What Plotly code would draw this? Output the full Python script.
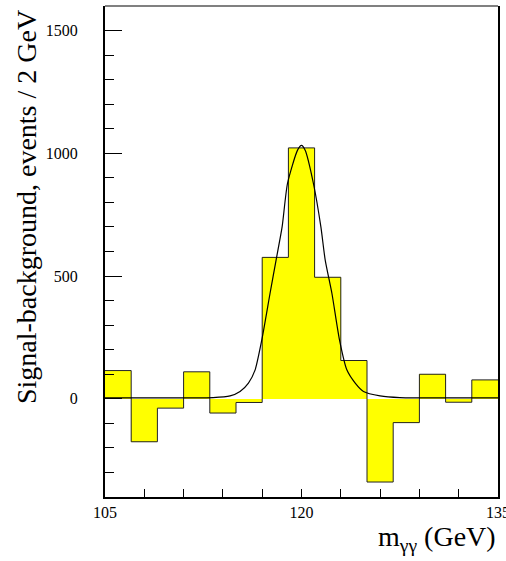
import plotly.graph_objects as go

# Histogram: signal - background per 2 GeV bin
bin_centers = [106, 108, 110, 112, 114, 116, 118, 120, 122, 124, 126, 128, 130, 132, 134]
bin_edges = [105, 107, 109, 111, 113, 115, 117, 119, 121, 123, 125, 127, 129, 131, 133, 135]
bin_values = [115, -175, -38, 110, -58, -15, 576, 1022, 495, 156, -339, -97, 100, -14, 77]

# Fitted curve, points
curve_x = [105, 110, 113.25, 114.55, 115.31, 115.95, 116.46, 116.97, 117.6, 118.06, 118.52,
           118.93, 119.69, 120.0, 120.28, 120.91, 121.48, 121.81, 122.32, 122.9, 123.46,
           124.1, 124.73, 126.0, 127.5, 130, 135]
curve_y = [4, 4, 5, 12, 30, 64, 118, 240, 430, 565, 700,
           877, 1012, 1032, 1012, 877, 700, 565, 430, 240, 118,
           64, 30, 12, 5, 4, 4]

x_ticks = [105, 120, 135]
x_long_ticks = [117, 129]
y_ticks = [0, 500, 1000, 1500]

FONT = "Liberation Serif, Times New Roman, serif"

fig = go.Figure()
fig.add_trace(go.Bar(x=bin_centers, y=bin_values, width=2,
                     marker=dict(color="#ffff00", line=dict(width=0)),
                     showlegend=False, hoverinfo="skip"))
fig.add_trace(go.Scatter(x=bin_edges, y=bin_values + [bin_values[-1]], mode="lines",
                         line=dict(color="#222222", width=1, shape="hv"),
                         showlegend=False, hoverinfo="skip"))
fig.add_trace(go.Scatter(x=curve_x, y=curve_y, mode="lines",
                         line=dict(color="black", width=1.2, shape="spline", smoothing=0.6),
                         showlegend=False, hoverinfo="skip"))

fig.update_layout(
    width=506, height=561,
    margin=dict(l=105, r=8, t=6, b=64, pad=0, autoexpand=False),
    paper_bgcolor="white", plot_bgcolor="white",
    bargap=0,
    xaxis=dict(range=[105, 135], tickvals=x_ticks, ticktext=[str(v) for v in x_ticks],
               ticks="inside", ticklen=8, tickwidth=1, tickcolor="black",
               minor=dict(tick0=105, dtick=3, ticks="inside", ticklen=8, tickcolor="black", tickwidth=1),
               showline=True, linecolor="black", linewidth=2, showgrid=False, zeroline=False,
               ticklabeloverflow="allow", automargin=False,
               tickfont=dict(family=FONT, size=16, color="black")),
    xaxis3=dict(overlaying="x", side="bottom", range=[105, 135], tickvals=x_long_ticks,
                ticks="inside", ticklen=17, tickwidth=1, tickcolor="black", automargin=False,
                showticklabels=False, showline=False, showgrid=False, zeroline=False),
    yaxis=dict(range=[-400, 1600], tickvals=y_ticks, ticktext=[str(v) for v in y_ticks],
               ticks="inside", ticklen=17, tickwidth=1, tickcolor="black",
               minor=dict(dtick=100, ticks="inside", ticklen=9, tickcolor="black", tickwidth=1),
               showline=True, linecolor="black", linewidth=2, mirror=True,
               showgrid=False, zeroline=False, automargin=False,
               tickfont=dict(family=FONT, size=16, color="black"),
               ticklabelstandoff=22),
    shapes=[dict(type="line", xref="paper", yref="paper", x0=0, x1=1, y0=1, y1=1,
                 line=dict(color="#808080", width=2), layer="above")],
    annotations=[
        dict(text="Signal-background, events / 2 GeV", xref="paper", yref="paper",
             x=-0.199, y=0.59, xanchor="center", yanchor="middle", textangle=-90,
             showarrow=False, font=dict(family=FONT, size=28, color="black")),
        dict(text="m<sub>γγ</sub> (GeV)", xref="paper", yref="paper",
             x=1.0, y=-0.085, xanchor="right", yanchor="middle",
             showarrow=False, font=dict(family=FONT, size=28, color="black")),
    ],
)

fig.write_html("out.html")
